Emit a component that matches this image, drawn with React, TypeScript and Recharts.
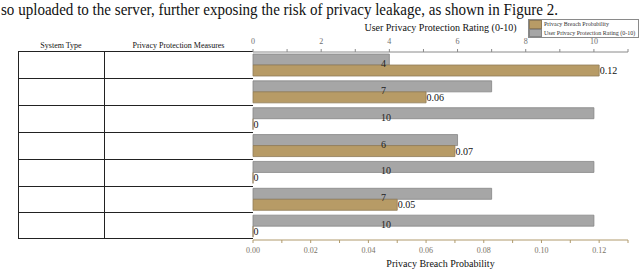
import React from "react";
import { BarChart, Bar, XAxis, YAxis, Legend, LabelList } from "recharts";

// rows of the table (text cells are blank in the figure)
const rowIds = ["r1", "r2", "r3", "r4", "r5", "r6", "r7"];
const ratings = [4, 7, 10, 6, 10, 7, 10];
const breachProb = [0.12, 0.06, 0, 0.07, 0, 0.05, 0];

const ratingTicks = [0, 1, 2, 3, 4, 5, 6, 7, 8, 9, 10, 11];
const probTicks = [0, 0.01, 0.02, 0.03, 0.04, 0.05, 0.06, 0.07, 0.08, 0.09, 0.1, 0.11, 0.12, 0.13];

const headers = ["System Type", "Privacy Protection Measures"];
const seriesNames = ["Privacy Breach Probability", "User Privacy Protection Rating (0-10)"];
const caption =
  "so uploaded to the server, further exposing the risk of privacy leakage, as shown in Figure 2.";

const GRAY = "#a6a6a6";
const GRAY_EDGE = "#858585";
const TAN = "#b79b66";
const TAN_EDGE = "#8f7b58";
const SERIF = "Liberation Serif";

const W = 640;
const H = 270;
const PLOT_LEFT = 253;
const PLOT_TOP = 52;
const PLOT_BOTTOM = 240;
const TABLE_LEFT = 18;
const COL_SPLIT = 104;

const data = rowIds.map((id, i) => ({ id, rating: ratings[i], prob: breachProb[i] }));

const RatingLabel = (props: any) => {
  const { x, y, height, value } = props;
  return (
    <text x={x + 128} y={y + height + 2} fontSize={10} fontFamily={SERIF} fill="#222">
      {value}
    </text>
  );
};

const ProbLabel = (props: any) => {
  const { x, y, width, height, value } = props;
  return (
    <text
      x={x + width + 0.5}
      y={y + height / 2}
      dominantBaseline="central"
      fontSize={10}
      fontFamily={SERIF}
      fill="#111"
    >
      {value}
    </text>
  );
};

const LegendBox = () => {
  const colors = [
    [TAN, TAN_EDGE],
    [GRAY, GRAY_EDGE],
  ];
  return (
    <div
      style={{
        border: "1px solid #8a8a8a",
        background: "#fff",
        width: 111,
        boxSizing: "border-box",
      }}
    >
      {seriesNames.map((n, i) => (
        <div key={n} style={{ display: "flex", alignItems: "center", height: 8.5 }}>
          <div
            style={{
              width: 13,
              height: 8.5,
              background: colors[i][0],
              boxSizing: "border-box",
              border: `1px solid ${colors[i][1]}`,
            }}
          />
          <span
            style={{
              fontFamily: SERIF,
              fontSize: 6,
              color: "#333",
              marginLeft: 2,
              whiteSpace: "nowrap",
              lineHeight: "8px",
            }}
          >
            {n}
          </span>
        </div>
      ))}
    </div>
  );
};

export default function App() {
  const rowH = (PLOT_BOTTOM - PLOT_TOP) / rowIds.length;
  return (
    <div
      style={{
        position: "absolute",
        left: 0,
        top: 0,
        width: W,
        height: H,
        background: "#fff",
        fontFamily: SERIF,
      }}
    >
      <svg width={W} height={22} style={{ position: "absolute", left: 0, top: 0 }}>
        <text
          x={1}
          y={15}
          fontSize={17}
          fontFamily={SERIF}
          fill="#111"
          textLength={557}
          lengthAdjust="spacingAndGlyphs"
        >
          {caption}
        </text>
      </svg>

      {/* table on the left */}
      <div
        style={{
          position: "absolute",
          left: TABLE_LEFT,
          top: 41,
          width: COL_SPLIT - TABLE_LEFT,
          textAlign: "center",
          fontSize: 8,
          color: "#111",
        }}
      >
        {headers[0]}
      </div>
      <div
        style={{
          position: "absolute",
          left: COL_SPLIT,
          top: 41,
          width: PLOT_LEFT - COL_SPLIT,
          textAlign: "center",
          fontSize: 8,
          color: "#111",
        }}
      >
        {headers[1]}
      </div>
      {rowIds.map((id, i) => (
        <div
          key={id}
          style={{
            position: "absolute",
            left: TABLE_LEFT,
            top: PLOT_TOP + i * rowH - 0.7,
            width: PLOT_LEFT - TABLE_LEFT,
            height: rowH,
            boxSizing: "border-box",
            borderTop: "1.4px solid #222",
            borderLeft: "1.4px solid #222",
            borderBottom: i === rowIds.length - 1 ? "1.4px solid #222" : "none",
          }}
        >
          <div
            style={{
              position: "absolute",
              left: COL_SPLIT - TABLE_LEFT - 1,
              top: 0,
              bottom: 0,
              borderLeft: "1.4px solid #222",
            }}
          />
        </div>
      ))}

      <div style={{ position: "absolute", left: 0, top: 0 }}>
        <BarChart
          width={W}
          height={H}
          data={data}
          layout="vertical"
          margin={{ top: 22, right: 12, bottom: 0, left: PLOT_LEFT }}
          barGap={0}
          barSize={11}
        >
          <XAxis
            xAxisId="rating"
            orientation="top"
            type="number"
            domain={[0, 11]}
            ticks={ratingTicks}
            tickFormatter={(v: number) => (v % 2 === 0 ? String(v) : "")}
            height={30}
            stroke="#8a8a8a"
            tickSize={3}
            tickMargin={5}
            tick={{ fill: "#6e6e6e", fontSize: 8, fontFamily: SERIF }}
            label={{
              value: seriesNames[1],
              position: "insideTop",
              offset: 2,
              fill: "#111",
              fontSize: 10,
              fontFamily: SERIF,
            }}
          />
          <XAxis
            xAxisId="prob"
            orientation="bottom"
            type="number"
            domain={[0, 0.13]}
            ticks={probTicks}
            tickFormatter={(v: number) =>
              Math.round(v * 100) % 2 === 0 ? v.toFixed(2) : ""
            }
            height={30}
            stroke="#b09a6c"
            tickSize={3}
            tickMargin={4}
            tick={{ fill: "#7a7466", fontSize: 8, fontFamily: SERIF }}
            label={{
              value: seriesNames[0],
              position: "insideBottom",
              offset: 3,
              fill: "#111",
              fontSize: 10,
              fontFamily: SERIF,
            }}
          />
          <YAxis
            type="category"
            dataKey="id"
            width={0}
            tick={false}
            tickLine={false}
            stroke="#222"
          />
          <Legend
            layout="horizontal"
            verticalAlign="middle"
            align="center"
            content={() => <LegendBox />}
            wrapperStyle={{ top: 19, left: 528, width: 111, height: 19 }}
          />
          <Bar
            xAxisId="rating"
            dataKey="rating"
            name={seriesNames[1]}
            fill={GRAY}
            stroke={GRAY_EDGE}
            strokeWidth={0.8}
            isAnimationActive={false}
          >
            <LabelList dataKey="rating" content={RatingLabel} />
          </Bar>
          <Bar
            xAxisId="prob"
            dataKey="prob"
            name={seriesNames[0]}
            fill={TAN}
            stroke={TAN_EDGE}
            strokeWidth={0.8}
            minPointSize={0.01}
            isAnimationActive={false}
          >
            <LabelList dataKey="prob" content={ProbLabel} />
          </Bar>
        </BarChart>
      </div>
    </div>
  );
}
